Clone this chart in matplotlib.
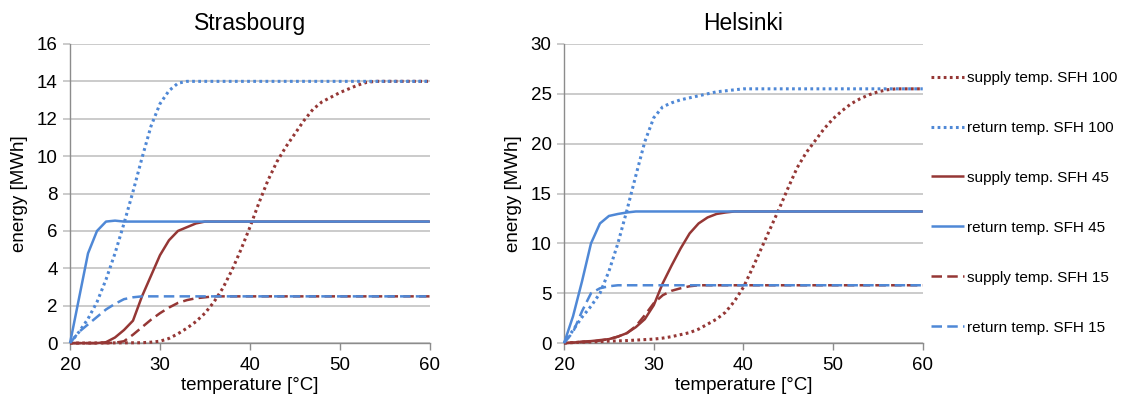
import matplotlib.pyplot as plt

plt.rcParams['font.family'] = ['Liberation Sans', 'DejaVu Sans']

red = '#953735'
blue = '#4f88d6'

# Strasbourg
sxb_supply100_t = [20, 28, 29, 30, 31, 32, 33, 34, 35, 36, 37, 38, 39, 40, 41, 42, 43, 44, 45, 46, 47, 48, 49, 50, 51, 52, 53, 54, 60]
sxb_supply100 = [0, 0.02, 0.05, 0.1, 0.25, 0.5, 0.8, 1.15, 1.6, 2.2, 2.95, 3.9, 5.0, 6.2, 7.5, 8.7, 9.7, 10.5, 11.2, 11.9, 12.5, 12.9, 13.15, 13.4, 13.6, 13.8, 13.95, 14.0, 14.0]
sxb_return100_t = [20, 21, 22, 23, 24, 25, 26, 27, 28, 29, 30, 31, 32, 33, 60]
sxb_return100 = [0, 0.6, 1.3, 2.2, 3.4, 4.8, 6.4, 8.1, 9.9, 11.6, 12.8, 13.5, 13.9, 14.0, 14.0]
sxb_supply45_t = [20, 23, 24, 25, 26, 27, 28, 29, 30, 31, 32, 33, 34, 35, 60]
sxb_supply45 = [0, 0, 0.05, 0.3, 0.7, 1.2, 2.5, 3.6, 4.7, 5.5, 6.0, 6.2, 6.4, 6.5, 6.5]
sxb_return45_t = [20, 21, 22, 23, 24, 25, 26, 60]
sxb_return45 = [0, 2.4, 4.8, 6.0, 6.5, 6.55, 6.5, 6.5]
sxb_supply15_t = [20, 24, 25, 26, 27, 28, 29, 30, 31, 32, 33, 34, 35, 36, 60]
sxb_supply15 = [0, 0, 0.02, 0.1, 0.45, 0.85, 1.25, 1.6, 1.9, 2.15, 2.3, 2.4, 2.45, 2.5, 2.5]
sxb_return15_t = [20, 21, 22, 23, 24, 25, 26, 27, 28, 60]
sxb_return15 = [0, 0.6, 1.0, 1.4, 1.8, 2.1, 2.35, 2.45, 2.5, 2.5]

# Helsinki
hel_supply100_t = [20, 21, 22, 23, 24, 25, 26, 27, 28, 29, 30, 31, 32, 33, 34, 35, 36, 37, 38, 39, 40,
                   41, 42, 43, 44, 45, 46, 47, 48, 49, 50, 51, 52, 53, 54, 55, 56, 57, 60]
hel_supply100 = [0, 0.05, 0.1, 0.12, 0.15, 0.2, 0.22, 0.25, 0.3, 0.35, 0.4, 0.5, 0.65, 0.85, 1.05, 1.4, 1.9, 2.4, 3.1, 4.2, 5.6,
                 7.5, 9.5, 11.5, 13.5, 15.6, 17.6, 19.1, 20.3, 21.5, 22.5, 23.3, 24.0, 24.5, 24.9, 25.2, 25.4, 25.5, 25.5]
hel_return100_t = [20, 21, 22, 23, 24, 25, 26, 27, 28, 29, 30, 31, 32, 33, 34, 35, 36, 37, 38, 39, 40, 60]
hel_return100 = [0, 1.3, 2.6, 3.7, 5.0, 7.2, 10.0, 13.3, 16.8, 20.2, 22.6, 23.7, 24.1, 24.4, 24.6, 24.8, 25.0, 25.2, 25.3, 25.4, 25.5, 25.5]
hel_supply45_t = [20, 21, 22, 23, 24, 25, 26, 27, 28, 29, 30, 31, 32, 33, 34, 35, 36, 37, 38, 39, 60]
hel_supply45 = [0, 0.05, 0.15, 0.2, 0.3, 0.4, 0.65, 1.0, 1.6, 2.4, 3.8, 6.0, 7.8, 9.5, 11.0, 12.0, 12.6, 12.95, 13.1, 13.2, 13.2]
hel_return45_t = [20, 21, 22, 23, 24, 25, 26, 27, 28, 60]
hel_return45 = [0, 2.7, 6.2, 10.0, 12.0, 12.75, 12.95, 13.1, 13.2, 13.2]
hel_supply15_t = [20, 21, 22, 23, 24, 25, 26, 27, 28, 29, 30, 31, 32, 33, 34, 35, 60]
hel_supply15 = [0, 0.05, 0.1, 0.15, 0.25, 0.4, 0.65, 1.0, 1.7, 2.8, 4.0, 4.8, 5.25, 5.5, 5.7, 5.8, 5.8]
hel_return15_t = [20, 21, 22, 23, 24, 25, 26, 60]
hel_return15 = [0, 1.1, 3.2, 5.0, 5.5, 5.7, 5.8, 5.8]

labels = ['supply temp. SFH 100', 'return temp. SFH 100', 'supply temp. SFH 45',
          'return temp. SFH 45', 'supply temp. SFH 15', 'return temp. SFH 15']
colors = [red, blue, red, blue, red, blue]
dotted = (0, (0.9, 1.1))
dashed = (0, (4.2, 2.1))
styles = [dotted, dotted, '-', '-', dashed, dashed]

sxb = [(sxb_supply100_t, sxb_supply100), (sxb_return100_t, sxb_return100),
       (sxb_supply45_t, sxb_supply45), (sxb_return45_t, sxb_return45),
       (sxb_supply15_t, sxb_supply15), (sxb_return15_t, sxb_return15)]
hel = [(hel_supply100_t, hel_supply100), (hel_return100_t, hel_return100),
       (hel_supply45_t, hel_supply45), (hel_return45_t, hel_return45),
       (hel_supply15_t, hel_supply15), (hel_return15_t, hel_return15)]

fig = plt.figure(figsize=(11.35, 4.07), dpi=100)
ax1 = fig.add_axes([0.0617, 0.157, 0.317, 0.735])
ax2 = fig.add_axes([0.497, 0.157, 0.316, 0.735])


def draw(ax, series, title, ymax, ystep):
    for (t, e), c, ls, lab in zip(series, colors, styles, labels):
        lw = 2.2 if ls == dotted else 1.8
        ax.plot(t, e, color=c, linestyle=ls, linewidth=lw, label=lab,
                dash_capstyle='butt', solid_capstyle='butt', clip_on=False, zorder=3)
    ax.set_xlim(20, 60)
    ax.set_ylim(0, ymax)
    ax.set_xticks([20, 30, 40, 50, 60])
    ax.set_yticks(range(0, ymax + 1, ystep))
    ax.grid(axis='y', color='#bdbdbd', linewidth=1.1)
    ax.set_axisbelow(True)
    for s in ['top', 'right']:
        ax.spines[s].set_visible(False)
    for s in ['left', 'bottom']:
        ax.spines[s].set_color('#8c8c8c')
        ax.spines[s].set_linewidth(1.0)
    ax.tick_params(axis='y', length=5, color='#bdbdbd', width=1.1, labelsize=13.5, pad=4)
    ax.tick_params(axis='x', length=5, color='#8c8c8c', width=1.0, labelsize=13.5, pad=5)
    ax.set_xlabel('temperature [°C]', fontsize=13.5, labelpad=2)
    ax.set_ylabel('energy [MWh]', fontsize=13.5, labelpad=6)
    ax.set_title(title, fontsize=16.5, pad=10)


draw(ax1, sxb, 'Strasbourg', 16, 2)
draw(ax2, hel, 'Helsinki', 30, 5)

ax2.legend(loc='upper left', bbox_to_anchor=(1.005, 0.93), frameon=False,
           fontsize=11, handlelength=2.2, handletextpad=0.2, labelspacing=2.35,
           borderaxespad=0)

fig.savefig('out.png', dpi=100)
